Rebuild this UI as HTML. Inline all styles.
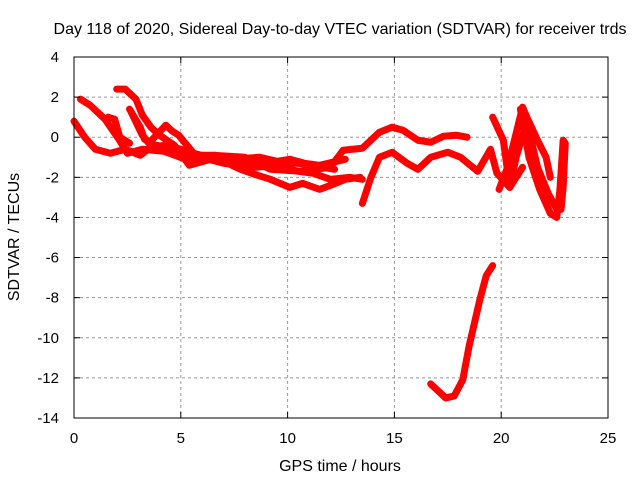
<!DOCTYPE html>
<html><head><meta charset="utf-8"><style>
body{margin:0;background:#fff}
text{font-family:"Liberation Sans",sans-serif;font-size:15px;fill:#000}
.big{font-size:16px}
</style></head><body>
<svg id="chart" width="640" height="480" viewBox="0 0 640 480" xmlns="http://www.w3.org/2000/svg">
<g id="grid"></g>
<g id="series"></g>
<rect x="74" y="57" width="534" height="361" fill="none" stroke="#000" stroke-width="1"/>
<g id="axes"></g>
<text class="big" x="340" y="34" text-anchor="middle">Day 118 of 2020, Sidereal Day-to-day VTEC variation (SDTVAR) for receiver trds</text>
<text class="big" x="340" y="471" text-anchor="middle">GPS time / hours</text>
<text class="big" x="19" y="237" text-anchor="middle" transform="rotate(-90 19 237)">SDTVAR / TECUs</text>
</svg>
<script>
const xTicks=[0,5,10,15,20,25];
const yTicks=[4,2,0,-2,-4,-6,-8,-10,-12,-14];
const traceA=[[0,0.8],[0.5,0],[1,-0.6],[1.7,-0.8],[2.4,-0.6],[3.1,-0.9],[3.6,-0.5],[4.3,-0.4],[5,-0.6],[5.9,-1],[6.6,-0.9],[7.3,-1.1],[8.7,-1.0],[9.5,-1.2],[10.1,-1.1],[10.8,-1.3],[11.5,-1.4],[12.7,-1.1]];
const traceB=[[0.3,1.9],[0.75,1.6],[1.45,0.9],[2.1,-0.1],[2.5,-0.8],[3.2,-0.6],[4.2,-0.7],[5.5,-1.2],[6.3,-1.1],[7,-1.3],[8.5,-1.5],[9.5,-1.4],[10.5,-1.7],[11.2,-1.8],[12,-2.1],[12.9,-2],[13.5,-2.1]];
const traceC=[[2.0,2.4],[2.4,2.4],[2.9,1.9],[3.2,1.1],[3.6,0.5],[4,0.1],[4.7,-0.4],[5.4,-1.4],[6.4,-1.1],[7.2,-1.3],[7.8,-1.6],[8.6,-1.9],[9.2,-2.1],[10.1,-2.5],[10.7,-2.3],[11.5,-2.6],[12,-2.4],[12.7,-2.1],[13.4,-2]];
const traceD=[[2.6,1.4],[3.1,0.5],[3.3,-0.1],[3.8,-0.4],[4.6,-0.5],[5.2,-0.9],[6.5,-0.9],[8,-1.0],[9.2,-1.6],[10.6,-1.7],[12,-1.5],[12.6,-0.65],[13.5,-0.55],[14.3,0.25],[14.9,0.5],[15.4,0.35],[16.1,-0.15],[16.7,-0.25],[17.3,0.05],[17.9,0.1],[18.4,0.0]];
const traceE=[[1.6,1.0],[1.9,0.9],[2.15,0],[2.6,-0.3]];
const traceE2=[[2.7,1.2],[3.2,0.1],[3.5,-0.3],[4.3,0.6],[4.6,0.3],[4.9,0.1],[5.6,-0.8],[7,-1.2],[8.7,-1.3],[10.5,-1.3],[12.2,-1.6]];
const traceF=[[13.5,-3.3],[13.9,-2],[14.3,-1],[14.9,-0.75],[15.6,-1.3],[16.1,-1.6],[16.7,-1],[17.5,-0.75],[18.1,-1.0],[18.9,-1.7],[19.5,-0.6],[19.8,-1.8],[20.4,-2.5],[21,-1.5]];
const traceG=[[19.6,1.0],[20.1,-0.15],[20.4,-2.5],[20.7,-1],[21.2,0.8],[21.7,-1.5],[22.2,-2.8],[22.6,-3.6]];
const traceH=[[19.9,-2.6],[20.3,-1.5],[20.7,0.2],[21,1.5],[21.2,1.0],[21.7,-0.15],[22.1,-1.0],[22.3,-2]];
const traceI=[[20.9,1.4],[21.3,-1],[21.8,-2.6],[22.3,-3.8],[22.6,-4],[22.75,-2.6],[22.9,-0.15],[23.0,-0.3],[22.9,-2.5],[22.8,-3.6]];
const traceLow=[[16.7,-12.3],[17.4,-13],[17.8,-12.9],[18.2,-12.1],[18.5,-10.4],[19,-8.1],[19.3,-6.9],[19.6,-6.4]];
const traces=[traceA,traceB,traceC,traceD,traceE,traceE2,traceF,traceG,traceH,traceI,traceLow];
const NS="http://www.w3.org/2000/svg";
const X=v=>74+v*534/25, Y=v=>57+(4-v)*361/18;
const grid=document.getElementById('grid'),axes=document.getElementById('axes'),ser=document.getElementById('series');
function mk(t,a,p){const e=document.createElementNS(NS,t);for(const k in a)e.setAttribute(k,a[k]);p.appendChild(e);return e;}
xTicks.forEach(t=>{
 if(t>0&&t<25){const g=mk('line',{x1:X(t),x2:X(t),y1:57,y2:418,stroke:'#999','stroke-dasharray':'3,3'},grid);
 
 }
 mk('line',{x1:X(t),x2:X(t),y1:418,y2:412,stroke:'#000'},axes);
 mk('line',{x1:X(t),x2:X(t),y1:57,y2:63,stroke:'#000'},axes);
 const l=mk('text',{x:X(t),y:443,'text-anchor':'middle'},axes);l.textContent=t;
 
 
});
yTicks.forEach(t=>{
 if(t<4&&t>-14){const g=mk('line',{x1:74,x2:608,y1:Y(t),y2:Y(t),stroke:'#999','stroke-dasharray':'3,3'},grid);
 
 }
 mk('line',{x1:74,x2:80,y1:Y(t),y2:Y(t),stroke:'#000'},axes);
 mk('line',{x1:602,x2:608,y1:Y(t),y2:Y(t),stroke:'#000'},axes);
 const l=mk('text',{x:59,y:Y(t)+5,'text-anchor':'end'},axes);l.textContent=t;
 
 
});
traces.forEach((tr,i)=>{
 const p=mk('polyline',{points:tr.map(d=>X(d[0])+','+Y(d[1])).join(' '),fill:'none',stroke:'#f00','stroke-width':7,'stroke-linejoin':'round','stroke-linecap':'round'},ser);
 
 
});
</script>
</body></html>
